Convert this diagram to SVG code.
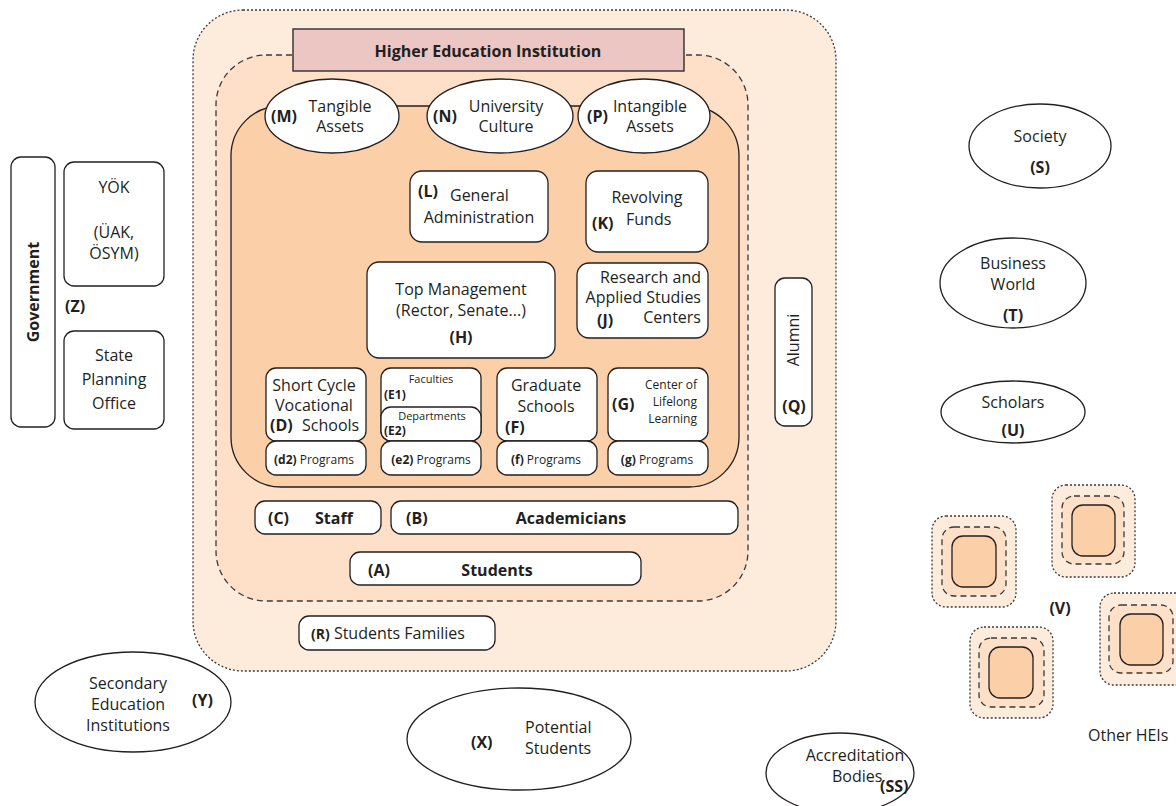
<svg xmlns="http://www.w3.org/2000/svg" width="1176" height="806" viewBox="0 0 1176 806">
<style>
text{font-family:"Open Sans","Noto Sans","DejaVu Sans",sans-serif;fill:#231f20;font-size:16px}
.b{font-weight:bold}
.m{text-anchor:middle}
.e{text-anchor:end}
.s{font-size:12px}
.xs{font-size:11px}
.box{fill:#fff;stroke:#231f20;stroke-width:1.3}
.outer{fill:#fdebdb;stroke:#3a3a3a;stroke-width:1.3;stroke-dasharray:2 2}
.mid{fill:#fde0c7;stroke:#3a3a3a;stroke-width:1.3;stroke-dasharray:6 4}
.inner{fill:#fbcfa7;stroke:#231f20;stroke-width:1.3}
</style>
<g id="hei">
<rect class="outer" x="193" y="10" width="643" height="661" rx="50"/>
<rect class="mid" x="216" y="55" width="532" height="546" rx="50"/>
<rect class="inner" x="231" y="106" width="508" height="381" rx="50"/>
<rect x="293" y="29" width="391" height="42" fill="#ecc6c2" stroke="#231f20" stroke-width="1.3"/>
<text class="b m" x="488" y="57" font-size="17">Higher Education Institution</text>
</g>
<g id="M"><ellipse class="box" cx="332" cy="116" rx="67" ry="37"/><text class="b" x="271" y="122">(M)</text><text class="m" x="340" y="112" font-size="15">Tangible</text><text class="m" x="340" y="132" font-size="15">Assets</text></g>
<g id="N"><ellipse class="box" cx="500" cy="116" rx="73" ry="37"/><text class="b" x="433" y="122">(N)</text><text class="m" x="506" y="112" font-size="15">University</text><text class="m" x="506" y="132" font-size="15">Culture</text></g>
<g id="P"><ellipse class="box" cx="644" cy="116" rx="66" ry="37"/><text class="b" x="587" y="122">(P)</text><text class="m" x="650" y="112" font-size="15">Intangible</text><text class="m" x="650" y="132" font-size="15">Assets</text></g>
<g id="L"><rect class="box" x="410" y="171" width="138" height="71" rx="12"/><text class="b" x="418" y="197" font-size="14">(L)</text><text x="450" y="201" font-size="15">General</text><text class="m" x="479" y="223" font-size="15">Administration</text></g>
<g id="K"><rect class="box" x="586" y="171" width="122" height="81" rx="12"/><text class="m" x="647" y="203" font-size="15">Revolving</text><text class="b" x="592" y="229" font-size="14">(K)</text><text x="626" y="225" font-size="15">Funds</text></g>
<g id="H"><rect class="box" x="367" y="262" width="188" height="96" rx="12"/><text class="m" x="461" y="295">Top Management</text><text class="m" x="461" y="316">(Rector, Senate...)</text><text class="b m" x="461" y="343" font-size="15">(H)</text></g>
<g id="J"><rect class="box" x="577" y="263" width="131" height="75" rx="12"/><text class="e" x="701" y="283" font-size="15">Research and</text><text class="e" x="701" y="303" font-size="15">Applied Studies</text><text class="e" x="701" y="323" font-size="15">Centers</text><text class="b" x="597" y="326" font-size="14">(J)</text></g>
<g id="D"><rect class="box" x="266" y="368" width="100" height="73" rx="10"/><text class="m" x="314" y="391" font-size="15">Short Cycle</text><text class="m" x="314" y="411" font-size="15">Vocational</text><text class="b" x="270" y="431" font-size="15">(D)</text><text x="302" y="431" font-size="15">Schools</text></g>
<g id="d2"><rect class="box" x="266" y="441" width="100" height="34" rx="10"/><text class="m s" x="314" y="464"><tspan class="b">(d2)</tspan> Programs</text></g>
<g id="E1"><rect class="box" x="381" y="368" width="100" height="73" rx="10"/><text class="m xs" x="431" y="383">Faculties</text><text class="b s" x="384" y="399">(E1)</text></g>
<g id="E2"><rect class="box" x="381" y="407" width="100" height="34" rx="10"/><text class="m xs" x="432" y="420">Departments</text><text class="b s" x="384" y="435">(E2)</text></g>
<g id="e2"><rect class="box" x="381" y="441" width="100" height="34" rx="10"/><text class="m s" x="431" y="464"><tspan class="b">(e2)</tspan> Programs</text></g>
<g id="F"><rect class="box" x="497" y="368" width="100" height="73" rx="10"/><text class="m" x="546" y="391">Graduate</text><text class="m" x="546" y="412">Schools</text><text class="b" x="505" y="433" font-size="14">(F)</text></g>
<g id="f"><rect class="box" x="497" y="441" width="100" height="34" rx="10"/><text class="m s" x="546" y="464"><tspan class="b">(f)</tspan> Programs</text></g>
<g id="G"><rect class="box" x="608" y="368" width="100" height="73" rx="10"/><text class="e s" x="697" y="389">Center of</text><text class="e s" x="697" y="406">Lifelong</text><text class="e s" x="697" y="423">Learning</text><text class="b" x="612" y="410" font-size="14">(G)</text></g>
<g id="g"><rect class="box" x="608" y="441" width="100" height="34" rx="10"/><text class="m s" x="657" y="464"><tspan class="b">(g)</tspan> Programs</text></g>
<g id="C"><rect class="box" x="255" y="501" width="126" height="33" rx="10"/><text class="b" x="268" y="524" font-size="17">(C)</text><text class="b" x="315" y="524">Staff</text></g>
<g id="B"><rect class="box" x="391" y="501" width="347" height="33" rx="10"/><text class="b" x="406" y="524" font-size="17">(B)</text><text class="b m" x="571" y="524">Academicians</text></g>
<g id="A"><rect class="box" x="350" y="552" width="291" height="33" rx="10"/><text class="b" x="368" y="576" font-size="18">(A)</text><text class="b m" x="497" y="576">Students</text></g>
<g id="R"><rect class="box" x="299" y="616" width="196" height="34" rx="10"/><text x="311" y="639" font-size="15"><tspan class="b" font-size="14">(R)</tspan> Students Families</text></g>
<g id="Q"><rect class="box" x="775" y="278" width="37" height="148" rx="10"/><text class="m" transform="translate(799 340) rotate(-90)" font-size="15">Alumni</text><text class="b m" x="794" y="412" font-size="14">(Q)</text></g>
<g id="Z">
<rect class="box" x="11" y="157" width="44" height="270" rx="10"/>
<text class="b m" transform="translate(39 292) rotate(-90)" font-size="17">Government</text>
<rect class="box" x="64" y="162" width="100" height="124" rx="10"/>
<text class="m" x="114" y="193">YÖK</text><text class="m" x="114" y="238">(ÜAK,</text><text class="m" x="114" y="259">ÖSYM)</text>
<text class="b" x="65" y="312" font-size="17">(Z)</text>
<rect class="box" x="64" y="331" width="100" height="98" rx="10"/>
<text class="m" x="114" y="361">State</text><text class="m" x="114" y="385">Planning</text><text class="m" x="114" y="409">Office</text>
</g>
<g id="S"><ellipse class="box" cx="1040" cy="146" rx="71" ry="42"/><text class="m" x="1040" y="142">Society</text><text class="b m" x="1040" y="173" font-size="17">(S)</text></g>
<g id="T"><ellipse class="box" cx="1013" cy="283" rx="73" ry="45"/><text class="m" x="1013" y="269">Business</text><text class="m" x="1013" y="290">World</text><text class="b m" x="1013" y="321" font-size="17">(T)</text></g>
<g id="U"><ellipse class="box" cx="1013" cy="412" rx="72" ry="31"/><text class="m" x="1013" y="408">Scholars</text><text class="b m" x="1013" y="436" font-size="17">(U)</text></g>
<g id="V">
<rect class="outer" x="932" y="516" width="84" height="91" rx="14"/><rect class="mid" x="942" y="527" width="64" height="69" rx="12"/><rect class="inner" x="952" y="536" width="44" height="51" rx="11"/>
<rect class="outer" x="1052" y="485" width="83" height="92" rx="14"/><rect class="mid" x="1062" y="496" width="62" height="68" rx="12"/><rect class="inner" x="1072" y="505" width="43" height="51" rx="11"/>
<rect class="outer" x="970" y="627" width="83" height="91" rx="14"/><rect class="mid" x="979" y="638" width="65" height="69" rx="12"/><rect class="inner" x="989" y="647" width="44" height="51" rx="11"/>
<rect class="outer" x="1100" y="593" width="90" height="92" rx="14"/><rect class="mid" x="1109" y="605" width="64" height="68" rx="12"/><rect class="inner" x="1120" y="614" width="43" height="51" rx="11"/>
<text class="b m" x="1060" y="614" font-size="17">(V)</text>
<text x="1088" y="741" font-size="15">Other HEIs</text>
</g>
<g id="Y"><ellipse class="box" cx="133" cy="702" rx="98" ry="50"/><text class="m" x="128" y="689" font-size="15">Secondary</text><text class="m" x="128" y="710" font-size="15">Education</text><text class="m" x="128" y="731" font-size="15">Institutions</text><text class="b" x="192" y="706" font-size="18">(Y)</text></g>
<g id="X"><ellipse class="box" cx="519" cy="739" rx="112" ry="51"/><text class="b" x="471" y="748" font-size="18">(X)</text><text x="525" y="733" font-size="15">Potential</text><text x="525" y="754" font-size="15">Students</text></g>
<g id="SS"><ellipse class="box" cx="840" cy="773" rx="74" ry="40"/><text class="m" x="855" y="761" font-size="14">Accreditation</text><text x="832" y="782" font-size="13">Bodies</text><text class="b" x="880" y="792" font-size="14">(SS)</text></g>
<g id="connectors"></g>
</svg>
